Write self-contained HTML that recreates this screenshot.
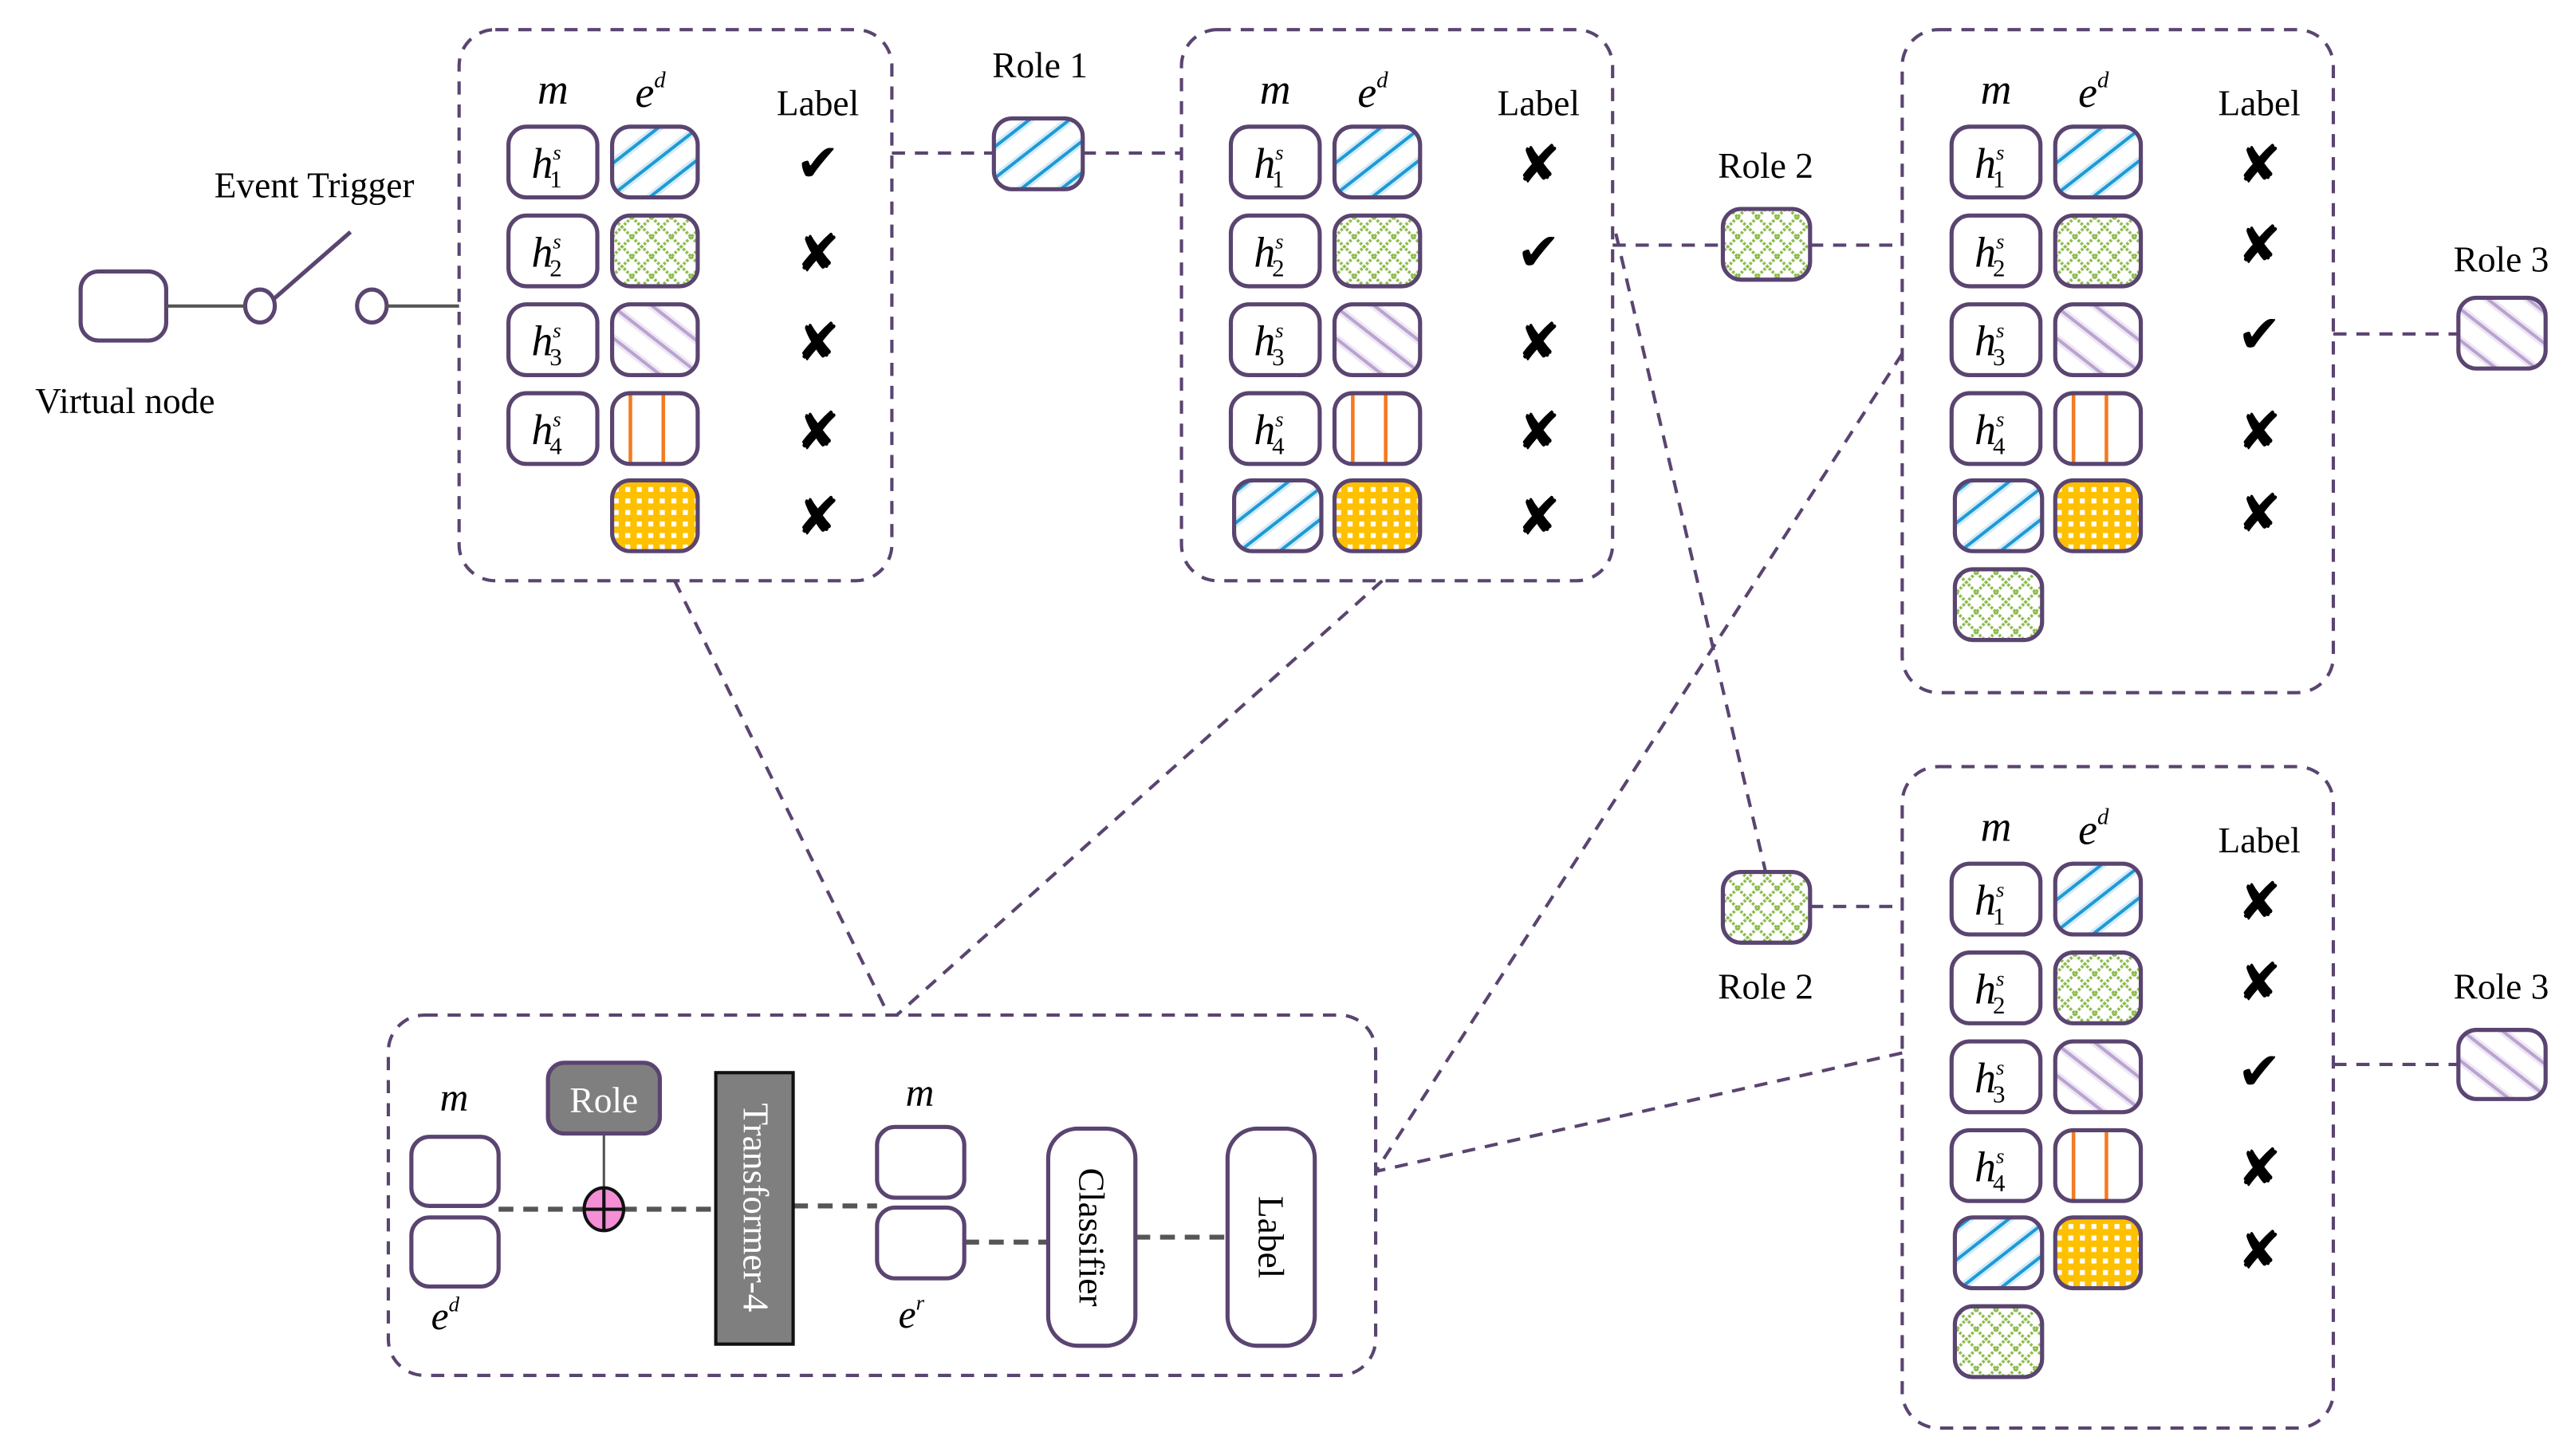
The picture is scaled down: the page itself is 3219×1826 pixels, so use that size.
<!DOCTYPE html>
<html><head><meta charset="utf-8">
<style>
html,body{margin:0;padding:0;background:#fff;}
svg{display:block;}
svg text{font-family:"Liberation Serif","DejaVu Serif",serif;fill:#000;}
svg text.sym{font-family:"DejaVu Sans",sans-serif;}
</style></head>
<body>
<svg width="3219" height="1826" viewBox="0 0 1560 885" preserveAspectRatio="none" xmlns="http://www.w3.org/2000/svg" font-family="Liberation Serif, serif">
<defs>
<pattern id="pb" width="15" height="15" patternUnits="userSpaceOnUse" patternTransform="rotate(-38)">
<rect width="15" height="15" fill="#fff"/><rect y="6.5" width="15" height="2" fill="#1e9ad6"/><rect y="5" width="15" height="1.5" fill="#d3ebf8"/><rect y="8.5" width="15" height="1.5" fill="#d3ebf8"/></pattern>
<pattern id="pp" width="15" height="15" patternUnits="userSpaceOnUse" patternTransform="rotate(38)">
<rect width="15" height="15" fill="#fff"/><rect y="6.5" width="15" height="2" fill="#b9a3cf"/><rect y="5" width="15" height="1.5" fill="#eee6f4"/><rect y="8.5" width="15" height="1.5" fill="#eee6f4"/></pattern>
<pattern id="pg" width="12" height="12" patternUnits="userSpaceOnUse">
<rect width="12" height="12" fill="#fff"/><path d="M0 0L12 12M12 0L0 12" stroke="#8dbb4e" stroke-width="1.8" stroke-dasharray="1.6 0.9"/></pattern>
<pattern id="po" width="44" height="50" patternUnits="userSpaceOnUse">
<rect width="44" height="50" fill="#fff"/><rect x="6" width="2.2" height="50" fill="#f47a20"/><rect x="30" width="2.2" height="50" fill="#f47a20"/></pattern>
<pattern id="py" width="7" height="7" patternUnits="userSpaceOnUse">
<rect width="7" height="7" fill="#ffc000"/><rect x="2" y="2" width="3" height="3" fill="#fff"/></pattern>
</defs>

<g fill="none" stroke="#5a4470" stroke-width="2" stroke-dasharray="8 6">
<rect x="279" y="18" width="263" height="335" rx="22"/>
<rect x="718" y="18" width="262" height="335" rx="22"/>
<rect x="1156" y="18" width="262" height="403" rx="22"/>
<rect x="1156" y="466" width="262" height="402" rx="22"/>
<rect x="236" y="617" width="600" height="219" rx="22"/>
<line x1="542" y1="93" x2="604" y2="93"/>
<line x1="658" y1="93" x2="718" y2="93"/>
<line x1="980" y1="149" x2="1047" y2="149"/>
<line x1="1100" y1="149" x2="1156" y2="149"/>
<line x1="1418" y1="203" x2="1494" y2="203"/>
<line x1="1100" y1="551" x2="1156" y2="551"/>
<line x1="1418" y1="647" x2="1494" y2="647"/>
<line x1="982" y1="142" x2="1073" y2="530"/>
<line x1="410" y1="353" x2="540" y2="617"/>
<line x1="840" y1="353" x2="545" y2="617"/>
<line x1="1156" y1="215" x2="836" y2="712"/>
<line x1="1156" y1="640" x2="836" y2="712"/>
</g>

<g stroke="#5a4470" stroke-width="2.5" fill="none">
<rect x="49" y="165" width="52" height="42" rx="11"/>
<ellipse cx="158" cy="186" rx="9" ry="10"/>
<ellipse cx="226" cy="186" rx="9" ry="10"/>
<line x1="166" y1="182" x2="213" y2="141"/>
</g>
<g stroke="#555" stroke-width="2"><line x1="101" y1="186" x2="149" y2="186"/><line x1="235" y1="186" x2="279" y2="186"/></g>
<text x="76" y="251" font-size="22" text-anchor="middle">Virtual node</text>
<text x="191" y="120" font-size="22" text-anchor="middle">Event Trigger</text>

<g stroke="#5a4470" stroke-width="2.5">
<rect x="604" y="72" width="54" height="43" rx="11" fill="url(#pb)"/>
<rect x="1047" y="127" width="53" height="43" rx="11" fill="url(#pg)"/>
<rect x="1494" y="181" width="53" height="43" rx="11" fill="url(#pp)"/>
<rect x="1047" y="530" width="53" height="43" rx="11" fill="url(#pg)"/>
<rect x="1494" y="626" width="53" height="42" rx="11" fill="url(#pp)"/>
</g>
<g font-size="22" text-anchor="middle">
<text x="632" y="47">Role 1</text>
<text x="1073" y="108">Role 2</text>
<text x="1520" y="165">Role 3</text>
<text x="1073" y="607">Role 2</text>
<text x="1520" y="607">Role 3</text>
</g>

<!-- Box 1 -->
<g>
<g stroke="#5a4470" stroke-width="2.5" fill="#fff">
<rect x="309" y="77" width="54" height="43" rx="11"/><rect x="309" y="131" width="54" height="43" rx="11"/>
<rect x="309" y="185" width="54" height="43" rx="11"/><rect x="309" y="239" width="54" height="43" rx="11"/>
<rect x="372" y="77" width="52" height="43" rx="11" fill="url(#pb)"/>
<rect x="372" y="131" width="52" height="43" rx="11" fill="url(#pg)"/>
<rect x="372" y="185" width="52" height="43" rx="11" fill="url(#pp)"/>
<rect x="372" y="239" width="52" height="43" rx="11" fill="url(#po)"/>
<rect x="372" y="292" width="52" height="43" rx="11" fill="url(#py)"/>
</g>
<g font-style="italic" font-size="26">
<text x="336" y="63" text-anchor="middle">m</text>
<text x="386" y="65">e<tspan font-size="14" dy="-12">d</tspan></text>
<text x="323" y="108">h<tspan font-size="13" dy="-11">s</tspan><tspan font-size="15" font-style="normal" dx="-7" dy="17">1</tspan></text>
<text x="323" y="162">h<tspan font-size="13" dy="-11">s</tspan><tspan font-size="15" font-style="normal" dx="-7" dy="17">2</tspan></text>
<text x="323" y="216">h<tspan font-size="13" dy="-11">s</tspan><tspan font-size="15" font-style="normal" dx="-7" dy="17">3</tspan></text>
<text x="323" y="270">h<tspan font-size="13" dy="-11">s</tspan><tspan font-size="15" font-style="normal" dx="-7" dy="17">4</tspan></text>
</g>
<text x="497" y="70" font-size="22" text-anchor="middle">Label</text>
<g font-size="32" text-anchor="middle">
<text class="sym" x="497" y="110">✔</text><text class="sym" x="497" y="165">✘</text><text class="sym" x="497" y="219">✘</text><text class="sym" x="497" y="273">✘</text><text class="sym" x="497" y="325">✘</text>
</g>
</g>

<!-- Box 2 -->
<g transform="translate(439,0)">
<g stroke="#5a4470" stroke-width="2.5" fill="#fff">
<rect x="309" y="77" width="54" height="43" rx="11"/><rect x="309" y="131" width="54" height="43" rx="11"/>
<rect x="309" y="185" width="54" height="43" rx="11"/><rect x="309" y="239" width="54" height="43" rx="11"/>
<rect x="311" y="292" width="53" height="43" rx="11" fill="url(#pb)"/>
<rect x="372" y="77" width="52" height="43" rx="11" fill="url(#pb)"/>
<rect x="372" y="131" width="52" height="43" rx="11" fill="url(#pg)"/>
<rect x="372" y="185" width="52" height="43" rx="11" fill="url(#pp)"/>
<rect x="372" y="239" width="52" height="43" rx="11" fill="url(#po)"/>
<rect x="372" y="292" width="52" height="43" rx="11" fill="url(#py)"/>
</g>
<g font-style="italic" font-size="26">
<text x="336" y="63" text-anchor="middle">m</text>
<text x="386" y="65">e<tspan font-size="14" dy="-12">d</tspan></text>
<text x="323" y="108">h<tspan font-size="13" dy="-11">s</tspan><tspan font-size="15" font-style="normal" dx="-7" dy="17">1</tspan></text>
<text x="323" y="162">h<tspan font-size="13" dy="-11">s</tspan><tspan font-size="15" font-style="normal" dx="-7" dy="17">2</tspan></text>
<text x="323" y="216">h<tspan font-size="13" dy="-11">s</tspan><tspan font-size="15" font-style="normal" dx="-7" dy="17">3</tspan></text>
<text x="323" y="270">h<tspan font-size="13" dy="-11">s</tspan><tspan font-size="15" font-style="normal" dx="-7" dy="17">4</tspan></text>
</g>
<text x="496" y="70" font-size="22" text-anchor="middle">Label</text>
<g font-size="32" text-anchor="middle">
<text class="sym" x="496" y="111">✘</text><text class="sym" x="496" y="164">✔</text><text class="sym" x="496" y="219">✘</text><text class="sym" x="496" y="273">✘</text><text class="sym" x="496" y="325">✘</text>
</g>
</g>

<!-- Box 3 -->
<g transform="translate(877,0)">
<g stroke="#5a4470" stroke-width="2.5" fill="#fff">
<rect x="309" y="77" width="54" height="43" rx="11"/><rect x="309" y="131" width="54" height="43" rx="11"/>
<rect x="309" y="185" width="54" height="43" rx="11"/><rect x="309" y="239" width="54" height="43" rx="11"/>
<rect x="311" y="292" width="53" height="43" rx="11" fill="url(#pb)"/>
<rect x="311" y="346" width="53" height="43" rx="11" fill="url(#pg)"/>
<rect x="372" y="77" width="52" height="43" rx="11" fill="url(#pb)"/>
<rect x="372" y="131" width="52" height="43" rx="11" fill="url(#pg)"/>
<rect x="372" y="185" width="52" height="43" rx="11" fill="url(#pp)"/>
<rect x="372" y="239" width="52" height="43" rx="11" fill="url(#po)"/>
<rect x="372" y="292" width="52" height="43" rx="11" fill="url(#py)"/>
</g>
<g font-style="italic" font-size="26">
<text x="336" y="63" text-anchor="middle">m</text>
<text x="386" y="65">e<tspan font-size="14" dy="-12">d</tspan></text>
<text x="323" y="108">h<tspan font-size="13" dy="-11">s</tspan><tspan font-size="15" font-style="normal" dx="-7" dy="17">1</tspan></text>
<text x="323" y="162">h<tspan font-size="13" dy="-11">s</tspan><tspan font-size="15" font-style="normal" dx="-7" dy="17">2</tspan></text>
<text x="323" y="216">h<tspan font-size="13" dy="-11">s</tspan><tspan font-size="15" font-style="normal" dx="-7" dy="17">3</tspan></text>
<text x="323" y="270">h<tspan font-size="13" dy="-11">s</tspan><tspan font-size="15" font-style="normal" dx="-7" dy="17">4</tspan></text>
</g>
<text x="496" y="70" font-size="22" text-anchor="middle">Label</text>
<g font-size="32" text-anchor="middle">
<text class="sym" x="496" y="111">✘</text><text class="sym" x="496" y="160">✘</text><text class="sym" x="496" y="214">✔</text><text class="sym" x="496" y="273">✘</text><text class="sym" x="496" y="323">✘</text>
</g>
</g>

<!-- Box 4 -->
<g transform="translate(877,448)">
<g stroke="#5a4470" stroke-width="2.5" fill="#fff">
<rect x="309" y="77" width="54" height="43" rx="11"/><rect x="309" y="131" width="54" height="43" rx="11"/>
<rect x="309" y="185" width="54" height="43" rx="11"/><rect x="309" y="239" width="54" height="43" rx="11"/>
<rect x="311" y="292" width="53" height="43" rx="11" fill="url(#pb)"/>
<rect x="311" y="346" width="53" height="43" rx="11" fill="url(#pg)"/>
<rect x="372" y="77" width="52" height="43" rx="11" fill="url(#pb)"/>
<rect x="372" y="131" width="52" height="43" rx="11" fill="url(#pg)"/>
<rect x="372" y="185" width="52" height="43" rx="11" fill="url(#pp)"/>
<rect x="372" y="239" width="52" height="43" rx="11" fill="url(#po)"/>
<rect x="372" y="292" width="52" height="43" rx="11" fill="url(#py)"/>
</g>
<g font-style="italic" font-size="26">
<text x="336" y="63" text-anchor="middle">m</text>
<text x="386" y="65">e<tspan font-size="14" dy="-12">d</tspan></text>
<text x="323" y="108">h<tspan font-size="13" dy="-11">s</tspan><tspan font-size="15" font-style="normal" dx="-7" dy="17">1</tspan></text>
<text x="323" y="162">h<tspan font-size="13" dy="-11">s</tspan><tspan font-size="15" font-style="normal" dx="-7" dy="17">2</tspan></text>
<text x="323" y="216">h<tspan font-size="13" dy="-11">s</tspan><tspan font-size="15" font-style="normal" dx="-7" dy="17">3</tspan></text>
<text x="323" y="270">h<tspan font-size="13" dy="-11">s</tspan><tspan font-size="15" font-style="normal" dx="-7" dy="17">4</tspan></text>
</g>
<text x="496" y="70" font-size="22" text-anchor="middle">Label</text>
<g font-size="32" text-anchor="middle">
<text class="sym" x="496" y="111">✘</text><text class="sym" x="496" y="160">✘</text><text class="sym" x="496" y="214">✔</text><text class="sym" x="496" y="273">✘</text><text class="sym" x="496" y="323">✘</text>
</g>
</g>

<!-- bottom model -->
<g stroke="#555" stroke-width="3" stroke-dasharray="9 6" fill="none">
<line x1="303" y1="735" x2="435" y2="735"/>
<line x1="482" y1="733" x2="533" y2="733"/>
<line x1="586" y1="755" x2="637" y2="755"/>
<line x1="690" y1="752" x2="746" y2="752"/>
</g>
<line x1="367" y1="689" x2="367" y2="722" stroke="#555" stroke-width="1.5"/>
<g stroke="#5a4470" stroke-width="2.5" fill="#fff">
<rect x="250" y="691" width="53" height="42" rx="11"/>
<rect x="250" y="740" width="53" height="42" rx="11"/>
<rect x="533" y="685" width="53" height="43" rx="11"/>
<rect x="533" y="734" width="53" height="43" rx="11"/>
<rect x="637" y="686" width="53" height="132" rx="18"/>
<rect x="746" y="686" width="53" height="132" rx="18"/>
<rect x="333" y="646" width="68" height="43" rx="10" fill="#7f7f7f"/>
</g>
<rect x="435" y="652" width="47" height="165" fill="#7f7f7f" stroke="#111" stroke-width="2"/>
<ellipse cx="367" cy="735" rx="12" ry="13" fill="#f48fd6" stroke="#111" stroke-width="2"/>
<line x1="355" y1="735" x2="379" y2="735" stroke="#111" stroke-width="2"/>
<line x1="367" y1="722" x2="367" y2="748" stroke="#111" stroke-width="2"/>
<text x="367" y="676" font-size="22" text-anchor="middle" style="fill:#fff">Role</text>
<text transform="translate(452,734) rotate(90)" font-size="22" text-anchor="middle" style="fill:#fff">Transformer-4</text>
<text transform="translate(656,752) rotate(90)" font-size="22" text-anchor="middle">Classifier</text>
<text transform="translate(765,752) rotate(90)" font-size="22" text-anchor="middle">Label</text>
<g font-style="italic" font-size="24">
<text x="276" y="675" text-anchor="middle">m</text>
<text x="262" y="808">e<tspan font-size="13" dy="-11">d</tspan></text>
<text x="559" y="672" text-anchor="middle">m</text>
<text x="546" y="807">e<tspan font-size="13" dy="-11">r</tspan></text>
</g>
</svg>
</body></html>
